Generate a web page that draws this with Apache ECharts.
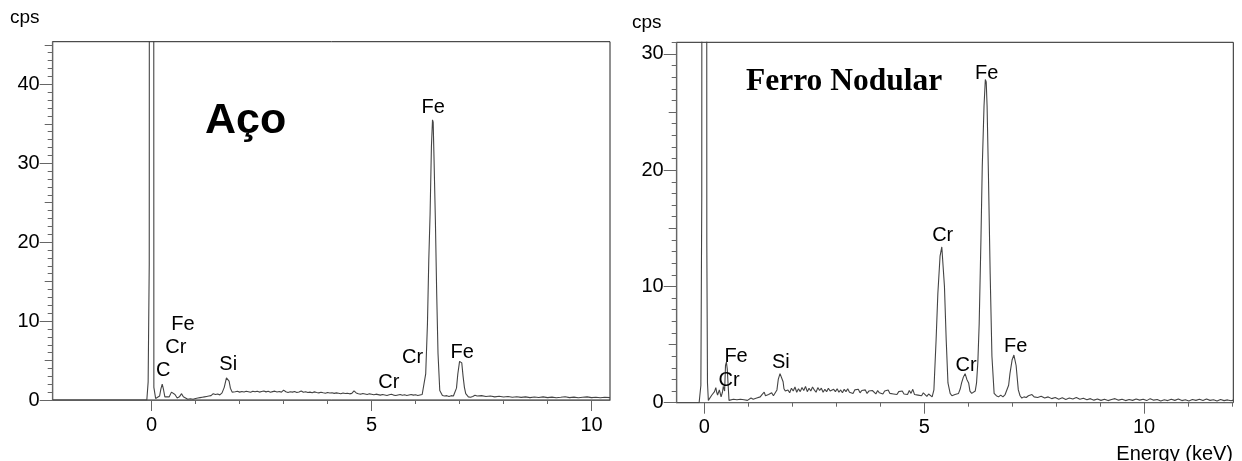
<!DOCTYPE html>
<html>
<head>
<meta charset="utf-8">
<script src="https://cdn.jsdelivr.net/npm/echarts@6/dist/echarts.min.js"></script>
<style>html,body{margin:0;padding:0;background:#fff}#c{width:1242px;height:461px}</style>
</head>
<body>
<div id="c"></div>
<script>
// ---------- DATA ----------
// Aço spectrum: [energy keV, cps]
const acoSpectrum = [
[-2.25,0],[-0.11,0],[-0.08,2.3],[-0.06,2.4],[-0.055,17.3],[-0.045,200],[0.04,200],[0.05,1.6],[0.075,1.5],[0.09,0.2],
[0.13,0.1],[0.18,0.5],[0.21,1.4],[0.24,2.0],[0.27,1.3],[0.30,0.4],[0.34,0.2],[0.40,0.4],[0.45,1.0],[0.49,1.2],
[0.53,0.7],[0.58,0.25],[0.63,0.4],[0.68,0.8],[0.72,0.4],[0.76,0.15],[0.82,0.1],[0.88,0.15],[0.94,0.1],[1.00,0.2],
[1.05,0.25],[1.10,0.3],[1.15,0.35],[1.20,0.4],[1.25,0.45],[1.30,0.5],[1.35,0.55],[1.40,0.8],[1.45,0.7],[1.50,0.75],
[1.55,0.65],[1.60,0.9],[1.65,1.6],[1.70,2.8],[1.73,3.0],[1.76,2.4],[1.79,1.5],[1.83,1.0],[1.86,1.1],
[1.90,1.05],[1.95,1.10],[2.00,1.00],[2.05,1.08],[2.10,1.02],[2.15,1.12],[2.20,1.05],[2.25,0.98],[2.30,1.10],[2.35,1.04],
[2.40,1.12],[2.45,1.00],[2.50,1.08],[2.55,1.15],[2.60,1.03],[2.65,1.10],[2.70,0.98],[2.75,1.06],[2.80,1.12],[2.85,1.02],
[2.90,1.08],[2.95,1.00],[3.00,1.25],[3.05,1.05],[3.10,0.96],[3.15,1.04],[3.20,1.00],[3.25,1.08],[3.30,0.95],[3.35,1.02],
[3.40,1.15],[3.45,0.98],[3.50,1.05],[3.55,0.94],[3.60,1.00],[3.65,0.92],[3.70,1.03],[3.75,0.96],[3.80,0.90],[3.85,0.99],
[3.90,0.92],[3.95,0.86],[4.00,0.95],[4.05,0.88],[4.10,0.92],[4.15,0.84],[4.20,0.90],[4.25,0.86],[4.30,0.80],[4.35,0.88],
[4.40,0.82],[4.45,0.86],[4.50,0.78],[4.55,0.84],[4.60,1.15],[4.65,0.90],[4.70,0.80],[4.75,0.74],[4.80,0.82],[4.85,0.76],
[4.90,0.70],[4.95,0.78],[5.00,0.72],[5.05,0.66],[5.10,0.74],[5.15,0.68],[5.20,0.62],[5.25,0.70],[5.30,0.64],[5.35,0.58],
[5.40,0.66],[5.45,0.72],[5.50,0.62],[5.55,0.56],[5.60,0.64],[5.65,0.70],[5.70,0.60],[5.75,0.66],[5.80,0.58],[5.85,0.64],
[5.90,0.70],[5.95,0.62],[6.00,0.66],[6.05,0.58],[6.10,0.64],[6.15,0.70],
[6.19,0.8],[6.23,3.3],[6.27,9.7],[6.30,17.7],[6.33,23.6],[6.36,32.1],[6.385,35.5],[6.40,35.2],[6.42,30.4],[6.45,22.8],
[6.48,13.5],[6.51,5.9],[6.55,1.2],[6.61,0.57],[6.66,0.5],[6.71,0.55],[6.76,0.45],[6.81,0.55],[6.86,0.5],[6.90,0.7],
[6.93,1.5],[6.96,3.3],[7.00,4.9],[7.02,5.0],[7.05,4.7],[7.08,3.0],[7.11,1.6],[7.14,0.8],[7.20,0.4],
[7.25,0.35],[7.30,0.45],[7.35,0.60],[7.40,0.50],[7.50,0.55],[7.60,0.45],[7.70,0.50],[7.80,0.40],[7.90,0.48],[8.00,0.38],
[8.10,0.45],[8.20,0.35],[8.30,0.42],[8.40,0.33],[8.50,0.40],[8.60,0.30],[8.70,0.38],[8.80,0.32],[8.90,0.40],[9.00,0.30],
[9.10,0.36],[9.20,0.28],[9.30,0.34],[9.40,0.42],[9.50,0.30],[9.60,0.36],[9.70,0.28],[9.80,0.34],[9.90,0.40],[10.00,0.30],
[10.10,0.35],[10.20,0.28],[10.30,0.34],[10.42,0.30]
];

// Ferro Nodular spectrum: [energy keV, cps]
const ferroSpectrum = [
[-0.63,0],[-0.12,0],[-0.08,1.5],[-0.06,17.7],[-0.04,200],[0.04,200],[0.055,13.7],[0.07,1.7],[0.09,0.2],
[0.13,0.3],[0.17,0.66],[0.20,0.6],[0.23,0.95],[0.26,1.3],[0.28,0.9],[0.30,0.66],[0.34,1.1],[0.38,0.5],[0.41,0.9],
[0.43,1.4],[0.46,1.0],[0.48,3.2],[0.50,3.5],[0.52,2.9],[0.54,1.5],[0.56,0.2],[0.60,0.25],[0.66,0.3],[0.70,0.15],
[0.74,0.25],[0.78,0.2],[0.82,0.3],[0.86,0.2],[0.90,0.25],[0.94,0.35],[0.98,0.2],[1.02,0.3],[1.06,0.4],[1.11,0.3],
[1.15,0.45],[1.19,0.4],[1.23,0.55],[1.27,0.5],[1.31,0.7],[1.36,0.9],[1.39,0.6],[1.42,0.5],[1.46,0.7],[1.50,0.6],
[1.53,0.85],[1.57,0.6],[1.61,0.5],[1.65,1.1],[1.68,2.0],[1.72,2.5],[1.76,2.4],[1.79,1.8],[1.81,1.2],[1.84,1.0],[1.87,0.95],
[1.90,1.10],[1.94,0.85],[1.98,1.25],[2.02,1.00],[2.06,1.35],[2.10,0.90],[2.14,1.20],[2.18,0.95],[2.22,1.30],[2.26,1.05],
[2.30,1.40],[2.34,0.95],[2.38,1.25],[2.42,1.00],[2.46,1.35],[2.50,1.10],[2.54,0.90],[2.58,1.30],[2.62,1.05],[2.66,1.25],
[2.70,0.90],[2.74,1.15],[2.78,0.95],[2.82,1.25],[2.86,1.00],[2.90,0.85],[2.94,1.15],[2.98,0.95],[3.02,1.20],[3.06,0.90],
[3.10,1.10],[3.14,0.85],[3.18,1.15],[3.22,0.95],[3.26,1.20],[3.30,0.90],[3.34,1.05],[3.38,0.80],[3.42,1.10],[3.46,0.95],
[3.50,1.15],[3.54,0.85],[3.58,1.05],[3.62,0.90],[3.66,1.10],[3.70,0.80],[3.74,1.00],[3.78,0.85],[3.82,1.05],[3.86,0.90],
[3.90,0.75],[3.94,1.05],[3.98,0.85],[4.02,0.95],[4.06,0.75],[4.10,1.00],[4.14,0.85],[4.18,1.10],[4.22,0.80],[4.26,0.95],
[4.30,0.75],[4.34,0.90],[4.38,0.70],[4.42,0.95],[4.46,0.80],[4.50,1.00],[4.54,0.75],[4.58,0.90],[4.62,0.70],[4.66,1.05],
[4.70,0.80],[4.74,1.15],[4.78,0.70],[4.82,0.85],[4.86,0.65],[4.90,0.80],[4.94,0.60],[4.98,0.85],[5.02,0.70],[5.06,0.55],
[5.10,0.75],[5.14,0.60],[5.18,0.50],
[5.22,1.1],[5.27,5.4],[5.31,9.4],[5.36,12.6],[5.40,13.4],[5.42,13.3],[5.46,10.0],[5.50,5.4],[5.54,1.7],[5.59,0.8],
[5.63,0.6],[5.66,0.5],[5.70,0.7],[5.74,0.55],[5.78,0.8],[5.82,1.2],[5.85,1.7],[5.89,2.2],[5.93,2.5],[5.97,2.0],
[6.01,1.7],[6.04,1.0],[6.08,0.8],[6.12,0.7],[6.16,1.0],[6.19,1.7],[6.22,3.5],[6.25,6.8],[6.29,14.0],[6.32,20.3],
[6.36,25.5],[6.39,27.8],[6.41,27.6],[6.43,25.5],[6.46,19.7],[6.50,11.1],[6.54,4.0],[6.59,0.8],[6.64,0.6],[6.69,0.5],
[6.74,0.65],[6.79,0.5],[6.84,0.7],[6.88,0.8],[6.92,1.5],[6.95,2.5],[7.00,3.7],[7.04,4.1],[7.06,4.0],[7.09,3.2],
[7.14,1.1],[7.18,0.6],[7.22,0.4],[7.27,0.5],[7.32,0.45],[7.37,0.6],[7.41,0.55],[7.45,0.7],[7.50,0.5],
[7.58,0.45],[7.66,0.55],[7.74,0.40],[7.82,0.50],[7.90,0.35],[7.98,0.45],[8.06,0.30],[8.14,0.42],[8.22,0.28],[8.30,0.40],
[8.38,0.32],[8.46,0.45],[8.54,0.30],[8.62,0.38],[8.70,0.25],[8.78,0.35],[8.86,0.22],[8.94,0.32],[9.02,0.20],[9.10,0.30],
[9.18,0.18],[9.26,0.28],[9.34,0.35],[9.42,0.22],[9.50,0.30],[9.58,0.18],[9.66,0.28],[9.74,0.20],[9.82,0.32],[9.90,0.22],
[9.98,0.30],[10.06,0.18],[10.14,0.35],[10.22,0.22],[10.30,0.28],[10.38,0.15],[10.46,0.25],[10.54,0.18],[10.62,0.30],[10.70,0.20],
[10.78,0.32],[10.86,0.18],[10.94,0.26],[11.02,0.15],[11.10,0.28],[11.18,0.20],[11.26,0.30],[11.34,0.18],[11.42,0.32],[11.50,0.20],
[11.58,0.26],[11.66,0.15],[11.74,0.28],[11.82,0.18],[11.90,0.24],[11.98,0.16],[12.03,0.22]
];

// Peak labels: [energy keV, cps, text]
const acoLabels = [
[6.40,37.1,'Fe'],[0.26,3.7,'C'],[0.55,6.6,'Cr'],[0.71,9.6,'Fe'],[1.74,4.5,'Si'],
[5.39,2.16,'Cr'],[5.93,5.33,'Cr'],[7.06,5.97,'Fe']
];
const ferroLabels = [
[5.42,14.36,'Cr'],[6.42,28.3,'Fe'],[5.95,3.18,'Cr'],[7.08,4.82,'Fe'],
[0.72,4.0,'Fe'],[0.56,1.88,'Cr'],[1.74,3.43,'Si']
];

// Axis ranges and ticks
const acoX = {min:-2.25, max:10.42};
const acoY = {min:0, max:45.4};
const ferroX = {min:-0.63, max:12.03};
const ferroY = {min:0, max:31};
const acoXMajor = [0,5,10];
const acoXMinor = [1,2,3,4,6,7,8,9];
const ferroXMajor = [0,5,10];
const ferroXMinor = [1,2,3,4,6,7,8,9,11,12];
const acoYMajor = [0,10,20,30,40];
const acoYMid = [5,15,25,35,45];
const acoYMinor = [1,2,3,4,6,7,8,9,11,12,13,14,16,17,18,19,21,22,23,24,26,27,28,29,31,32,33,34,36,37,38,39,41,42,43,44];
const ferroYMajor = [0,10,20,30];
const ferroYMid = [5,15,25];
const ferroYMinor = [1,2,3,4,6,7,8,9,11,12,13,14,16,17,18,19,21,22,23,24,26,27,28,29,31];

// ---------- CHART ----------
const SANS = "'Liberation Sans', Arial, sans-serif";
const SERIF = "'Liberation Serif', 'Times New Roman', serif";
const AXIS_COLOR = '#666';
const LINE_COLOR = '#444';
const TEXT_COLOR = '#000';

function makeX(gi, range, major, minor) {
  return [
    {type:'value', gridIndex:gi, position:'bottom', min:range.min, max:range.max,
     axisLine:{show:true, onZero:false, lineStyle:{color:AXIS_COLOR, width:1.2}},
     axisTick:{show:true, customValues:major, length:11, lineStyle:{color:AXIS_COLOR}},
     axisLabel:{show:true, customValues:major, fontSize:20, color:TEXT_COLOR, fontFamily:SANS, margin:15},
     splitLine:{show:false}},
    {type:'value', gridIndex:gi, position:'bottom', min:range.min, max:range.max,
     axisLine:{show:false, onZero:false},
     axisTick:{show:true, customValues:minor, length:4, lineStyle:{color:AXIS_COLOR}},
     axisLabel:{show:false},
     splitLine:{show:false}}
  ];
}
function makeY(gi, range, major, mid, minor) {
  return [
    {type:'value', gridIndex:gi, position:'left', min:range.min, max:range.max,
     axisLine:{show:true, onZero:false, lineStyle:{color:AXIS_COLOR, width:1.2}},
     axisTick:{show:true, customValues:major, length:13, lineStyle:{color:AXIS_COLOR}},
     axisLabel:{show:true, customValues:major, fontSize:20, color:TEXT_COLOR, fontFamily:SANS, margin:13},
     splitLine:{show:false}},
    {type:'value', gridIndex:gi, position:'left', min:range.min, max:range.max,
     axisLine:{show:false, onZero:false},
     axisTick:{show:true, customValues:mid, length:8, lineStyle:{color:AXIS_COLOR}},
     axisLabel:{show:false}, splitLine:{show:false}},
    {type:'value', gridIndex:gi, position:'left', min:range.min, max:range.max,
     axisLine:{show:false, onZero:false},
     axisTick:{show:true, customValues:minor, length:5, lineStyle:{color:AXIS_COLOR}},
     axisLabel:{show:false}, splitLine:{show:false}}
  ];
}

function spectrumSeries(xi, yi, data) {
  return {type:'line', xAxisIndex:xi, yAxisIndex:yi, data:data, showSymbol:false, symbol:'none',
    lineStyle:{color:LINE_COLOR, width:1.1}, clip:true, animation:false, silent:true, z:3};
}
function labelSeries(xi, yi, data) {
  return {type:'scatter', xAxisIndex:xi, yAxisIndex:yi, data:data, symbolSize:0.01,
    itemStyle:{color:'#000', opacity:0}, encode:{x:0, y:1}, animation:false, silent:true, z:5,
    label:{show:true, position:'inside', formatter:p => p.value[2], fontSize:20, color:TEXT_COLOR,
      opacity:1, textBorderWidth:0, fontFamily:SANS}};
}

const chart = echarts.init(document.getElementById('c'), null, {renderer:'canvas'});
chart.setOption({
  animation:false,
  backgroundColor:'#fff',
  title:[
    {text:'cps', left:10, top:8, padding:0, textStyle:{fontSize:19, fontWeight:'normal', color:TEXT_COLOR, fontFamily:SANS}},
    {text:'cps', left:632, top:13, padding:0, textStyle:{fontSize:19, fontWeight:'normal', color:TEXT_COLOR, fontFamily:SANS}},
    {text:'Aço', left:205, top:100, padding:0, textStyle:{fontSize:43, fontWeight:'bold', color:'#000', fontFamily:SANS}},
    {text:'Ferro Nodular', left:746, top:66, padding:0, textStyle:{fontSize:31.5, fontWeight:'bold', color:'#000', fontFamily:SERIF}},
    {text:'Energy (keV)', right:9, top:444, padding:0, textStyle:{fontSize:20, fontWeight:'normal', color:TEXT_COLOR, fontFamily:SANS}}
  ],
  grid:[
    {left:52.7, top:41.7, width:557.3, height:358.3, show:true, borderColor:'#222', borderWidth:1, backgroundColor:'transparent', containLabel:false},
    {left:676.7, top:42.3, width:556.6, height:360.4, show:true, borderColor:'#222', borderWidth:1, backgroundColor:'transparent', containLabel:false}
  ],
  xAxis: [...makeX(0, acoX, acoXMajor, acoXMinor), ...makeX(1, ferroX, ferroXMajor, ferroXMinor)],
  yAxis: [...makeY(0, acoY, acoYMajor, acoYMid, acoYMinor), ...makeY(1, ferroY, ferroYMajor, ferroYMid, ferroYMinor)],
  series:[
    spectrumSeries(0, 0, acoSpectrum),
    labelSeries(0, 0, acoLabels),
    spectrumSeries(2, 3, ferroSpectrum),
    labelSeries(2, 3, ferroLabels)
  ]
});
</script>
</body>
</html>
